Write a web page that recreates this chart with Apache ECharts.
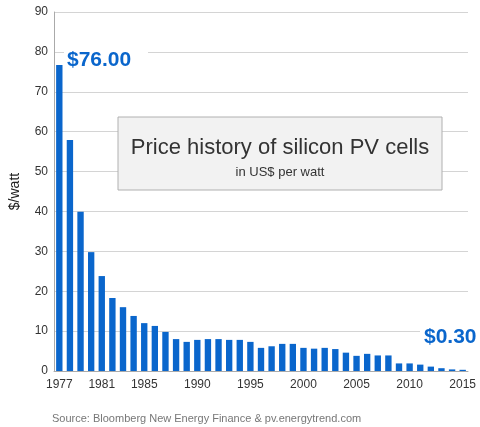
<!DOCTYPE html>
<html><head><meta charset="utf-8">
<script src="https://cdn.jsdelivr.net/npm/echarts@6/dist/echarts.min.js"></script>
<style>html,body{margin:0;padding:0;background:#fff}#c{width:480px;height:427px}</style>
</head><body><div id="c"></div>
<script>
// years and price in US$ per watt
const years = [];
for (let y = 1977; y <= 2015; y++) years.push(String(y));
const prices = [76.7, 57.9, 39.9, 29.8, 23.8, 18.3, 16.0, 13.8, 12.0, 11.3, 9.8, 8.0, 7.3, 7.8, 8.0, 8.0, 7.8, 7.8, 7.3,
  5.8, 6.2, 6.8, 6.8, 5.8, 5.6, 5.8, 5.5, 4.6, 3.8, 4.3, 3.9, 3.9, 1.9, 1.9, 1.6, 1.1, 0.7, 0.4, 0.3];
const shownYears = ['1977', '1981', '1985', '1990', '1995', '2000', '2005', '2010', '2015'];

const chart = echarts.init(document.getElementById('c'));
chart.setOption({
  animation: false,
  textStyle: { fontFamily: 'Liberation Sans' },
  grid: { left: 52, right: 12, top: 12, bottom: 56 },
  xAxis: {
    type: 'category', data: years,
    axisLine: { lineStyle: { color: '#aaa' } },
    axisTick: { show: false },
    axisLabel: { color: '#333', fontSize: 12, interval: (i, v) => shownYears.includes(v) }
  },
  yAxis: {
    type: 'value', min: 0, max: 90, interval: 10,
    name: '$/watt', nameLocation: 'middle', nameGap: 32,
    nameTextStyle: { color: '#222', fontSize: 14 },
    axisLine: { show: true, lineStyle: { color: '#aaa' } },
    axisLabel: { color: '#333', fontSize: 12, margin: 6 },
    splitLine: { lineStyle: { color: '#d4d4d4' } }
  },
  series: [{
    type: 'bar', data: prices, barWidth: '60%',
    itemStyle: { color: '#0a66cc' }
  }],
  graphic: [
    { type: 'rect', z: 100, shape: { x: 118, y: 117, width: 324, height: 73 },
      style: { fill: '#f2f2f2', stroke: '#b0b0b0', lineWidth: 1 } },
    { type: 'text', z: 101, x: 280, y: 148, style: { text: 'Price history of silicon PV cells', fill: '#333',
      font: '22px "Liberation Sans"', textAlign: 'center', textVerticalAlign: 'middle' } },
    { type: 'text', z: 101, x: 280, y: 172, style: { text: 'in US$ per watt', fill: '#333',
      font: '13px "Liberation Sans"', textAlign: 'center', textVerticalAlign: 'middle' } },
    { type: 'rect', z: 100, shape: { x: 64, y: 44, width: 84, height: 30 }, style: { fill: '#fff' } },
    { type: 'text', z: 101, x: 67, y: 60, style: { text: '$76.00', fill: '#0a66cc',
      font: 'bold 21px "Liberation Sans"', textVerticalAlign: 'middle' } },
    { type: 'rect', z: 100, shape: { x: 420, y: 322, width: 60, height: 30 }, style: { fill: '#fff' } },
    { type: 'text', z: 101, x: 424, y: 337, style: { text: '$0.30', fill: '#0a66cc',
      font: 'bold 21px "Liberation Sans"', textVerticalAlign: 'middle' } },
    { type: 'text', z: 101, x: 52, y: 419, style: { text: 'Source: Bloomberg New Energy Finance & pv.energytrend.com',
      fill: '#777', font: '11px "Liberation Sans"', textVerticalAlign: 'middle' } }
  ]
});
</script></body></html>
